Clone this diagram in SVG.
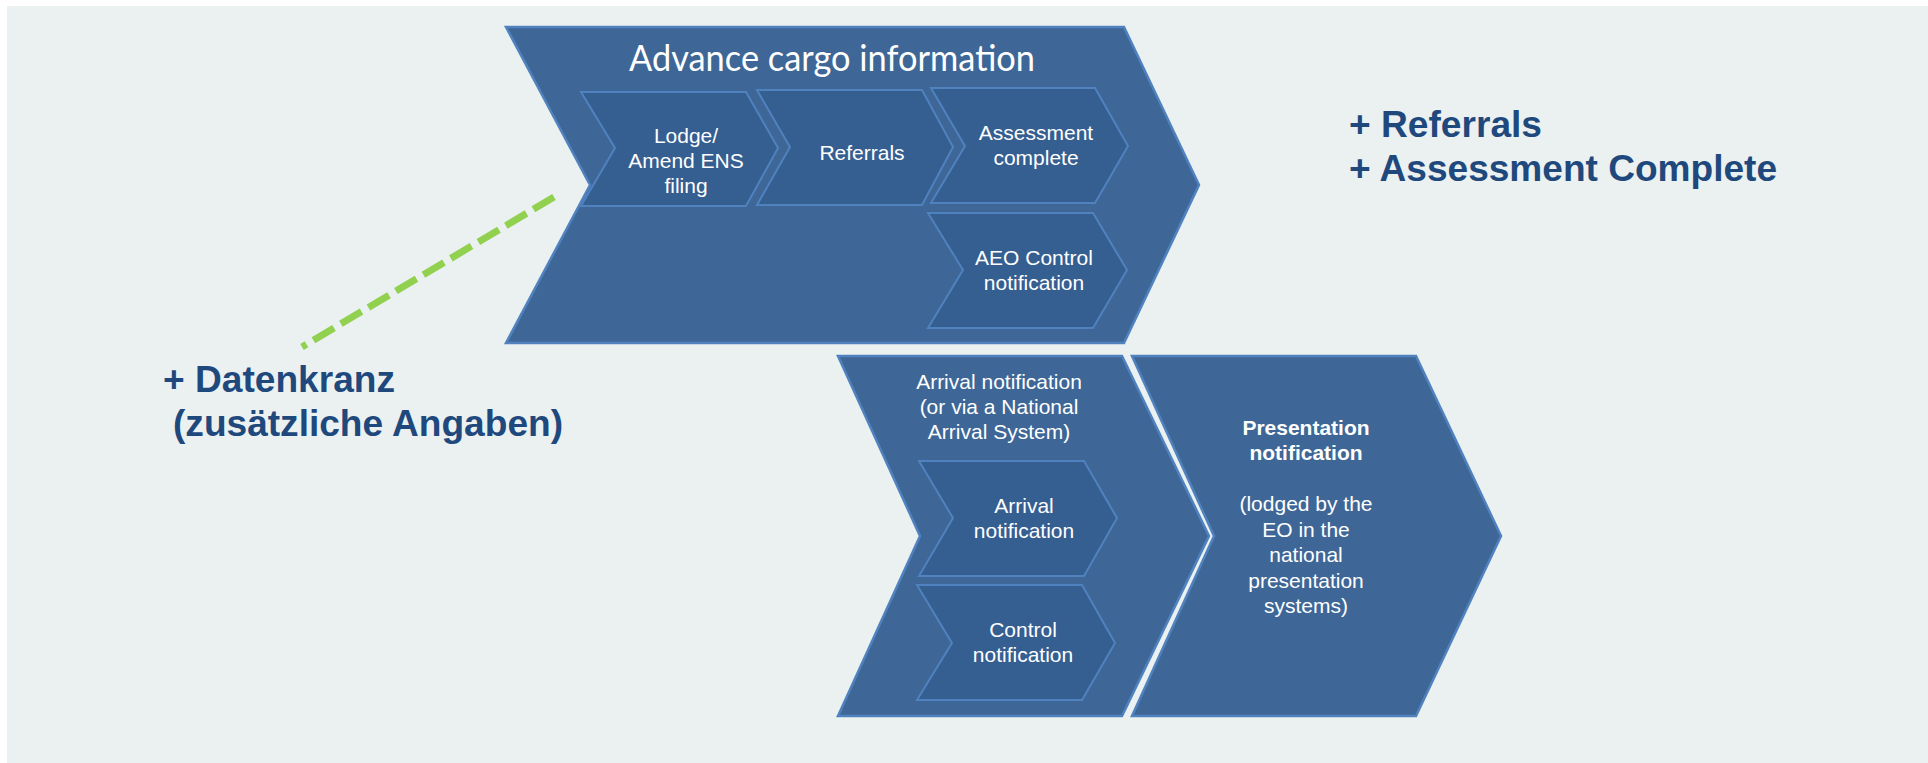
<svg xmlns="http://www.w3.org/2000/svg" width="1928" height="763" viewBox="0 0 1928 763">
<defs>
<style>
.outer{fill:#3E6797;stroke:#4F82BE;stroke-width:2.5;stroke-linejoin:miter}
.inner{fill:#355E91;stroke:#4F82BE;stroke-width:2;stroke-linejoin:miter}
.t{font-family:"Liberation Sans",Arial,sans-serif;font-size:21px;fill:#FFFFFF;text-anchor:middle}
.tb{font-weight:bold}
.title{font-family:Lato,"Open Sans",sans-serif;font-size:37px;fill:#FFFFFF;text-anchor:middle}
.note{font-family:"Liberation Sans",Arial,sans-serif;font-weight:bold;font-size:36px;fill:#1F497D}
.dash{fill:none;stroke:#92D050;stroke-width:7;stroke-dasharray:24 8}
</style>
</defs>
<rect x="0" y="0" width="1928" height="763" fill="#FFFFFF"/>
<rect x="7" y="6" width="1921" height="757" fill="#EBF1F1"/>

<g id="advance-cargo-information">
<polygon class="outer" points="506,27 1124,27 1199,185 1124,343 506,343 590,185"/>
<text class="title" x="832" y="71" textLength="406" lengthAdjust="spacingAndGlyphs">Advance cargo information</text>
</g>

<g id="lodge-amend-ens">
<polygon class="inner" points="581,92 746,92 778,148 746,206 581,206 615,148"/>
<text class="t" x="686" y="143">Lodge/</text>
<text class="t" x="686" y="168">Amend ENS</text>
<text class="t" x="686" y="193">filing</text>
</g>

<g id="referrals">
<polygon class="inner" points="757,90 922,90 953,147 922,205 757,205 790,147"/>
<text class="t" x="862" y="160">Referrals</text>
</g>

<g id="assessment-complete">
<polygon class="inner" points="931,88 1095,88 1128,146 1095,203 931,203 965,146"/>
<text class="t" x="1036" y="140">Assessment</text>
<text class="t" x="1036" y="165">complete</text>
</g>

<g id="aeo-control-notification">
<polygon class="inner" points="928,213 1093,213 1127,270 1093,328 928,328 963,270"/>
<text class="t" x="1034" y="265">AEO Control</text>
<text class="t" x="1034" y="290">notification</text>
</g>

<g id="arrival">
<polygon class="outer" points="838,356 1122,356 1209,536 1122,716 838,716 920,536"/>
<text class="t" x="999" y="389">Arrival notification</text>
<text class="t" x="999" y="414">(or via a National</text>
<text class="t" x="999" y="439">Arrival System)</text>
</g>

<g id="arrival-notification">
<polygon class="inner" points="919,461 1084,461 1117,518 1084,576 919,576 953,518"/>
<text class="t" x="1024" y="513">Arrival</text>
<text class="t" x="1024" y="538">notification</text>
</g>

<g id="control-notification">
<polygon class="inner" points="917,585 1082,585 1115,643 1082,700 917,700 952,643"/>
<text class="t" x="1023" y="637">Control</text>
<text class="t" x="1023" y="662">notification</text>
</g>

<g id="presentation-notification">
<polygon class="outer" points="1132,356 1416,356 1501,536 1416,716 1132,716 1214,536"/>
<text class="t tb" x="1306" y="435">Presentation</text>
<text class="t tb" x="1306" y="460">notification</text>
<text class="t" x="1306" y="511">(lodged by the</text>
<text class="t" x="1306" y="537">EO in the</text>
<text class="t" x="1306" y="562">national</text>
<text class="t" x="1306" y="588">presentation</text>
<text class="t" x="1306" y="613">systems)</text>
</g>

<g id="notes">
<text class="note" x="1349" y="137" textLength="193" lengthAdjust="spacingAndGlyphs">+ Referrals</text>
<text class="note" x="1349" y="181" textLength="428" lengthAdjust="spacingAndGlyphs">+ Assessment Complete</text>
<text class="note" x="163" y="392" textLength="232" lengthAdjust="spacingAndGlyphs">+ Datenkranz</text>
<text class="note" x="173" y="436" textLength="390" lengthAdjust="spacingAndGlyphs">(zusätzliche Angaben)</text>
</g>

<g id="connectors">
<path class="dash" d="M554,197 L302,347"/>
</g>
</svg>
